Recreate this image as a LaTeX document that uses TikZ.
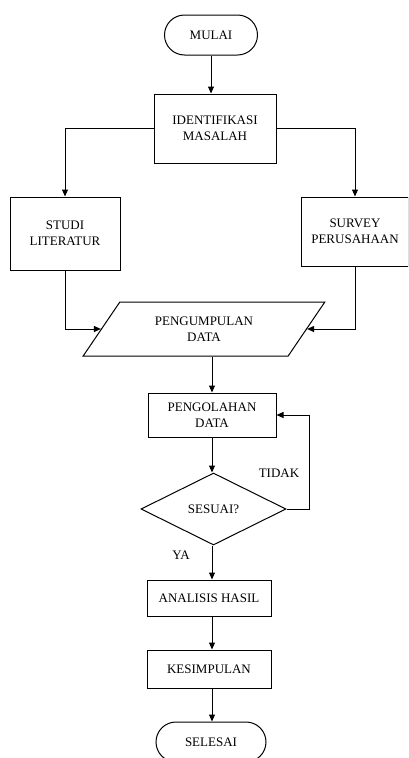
\documentclass[tikz,border=0pt]{standalone}
\usepackage{fontspec}
\setmainfont{Liberation Serif}
\usetikzlibrary{arrows.meta,shapes.geometric,shapes.misc}
\begin{document}
\begin{tikzpicture}[x=1pt,y=-1pt,
  every node/.style={font=\fontsize{13}{16}\selectfont, align=center, inner sep=0pt},
  box/.style={draw, line width=1pt, rectangle},
  term/.style={draw, line width=1pt, rounded rectangle},
  arr/.style={-{Triangle[length=7pt,width=6pt]}, line width=1pt},
  ln/.style={line width=1pt}]
\useasboundingbox (0,0) rectangle (408,758);
\clip (0,0) rectangle (408,758);
\coordinate (col) at (212,0);
\coordinate (loopx) at (309,0);
\node[term, minimum width=93pt, minimum height=40pt] (mulai) at (211,35) {MULAI};
\node[box, minimum width=122pt, minimum height=69pt] (ident) at (215,128.5) {IDENTIFIKASI\\MASALAH};
\node[box, minimum width=110pt, minimum height=73pt] (studi) at (65,233.5) {STUDI\\LITERATUR};
\node[box, minimum width=107pt, minimum height=69pt] (survey) at (355,231.5) {SURVEY\\PERUSAHAAN};
\node[draw, line width=1pt, trapezium, trapezium left angle=49, trapezium right angle=131, trapezium stretches=true, minimum width=242pt, minimum height=54pt] (pd) at (204,329) {PENGUMPULAN\\DATA};
\node[box, minimum width=128pt, minimum height=44pt] (proc) at (212,415) {PENGOLAHAN\\DATA};
\node[draw, line width=1pt, diamond, minimum width=145pt, minimum height=72pt] (dec) at (213.5,509) {SESUAI?};
\node[box, minimum width=124pt, minimum height=36pt] (ana) at (209,598) {ANALISIS HASIL};
\node[box, minimum width=124pt, minimum height=38pt] (kes) at (209,669) {KESIMPULAN};
\node[term, minimum width=110pt, minimum height=40pt] (sel) at (211,742) {SELESAI};
\node (tidak) at (279,473) {TIDAK};
\node (ya) at (181,555) {YA};

\draw[arr] (mulai.south) -- (mulai.south |- ident.north);
\draw[arr] (ident.west) -| (studi.north);
\draw[arr] (ident.east) -| (survey.north);
\draw[arr] (studi.south) |- (pd.left side);
\draw[arr] (survey.south) |- (pd.right side);
\draw[arr] (pd.bottom side -| proc.north) -- (proc.north);
\draw[arr] (proc.south) -- (proc.south |- dec.north);
\draw[arr] (dec.east) -- (dec.east -| loopx) |- (proc.east);
\draw[arr] (dec.south -| col) -- (ana.north -| col);
\draw[arr] (ana.south -| col) -- (kes.north -| col);
\draw[arr] (kes.south -| col) -- (sel.north -| col);
\end{tikzpicture}
\end{document}
